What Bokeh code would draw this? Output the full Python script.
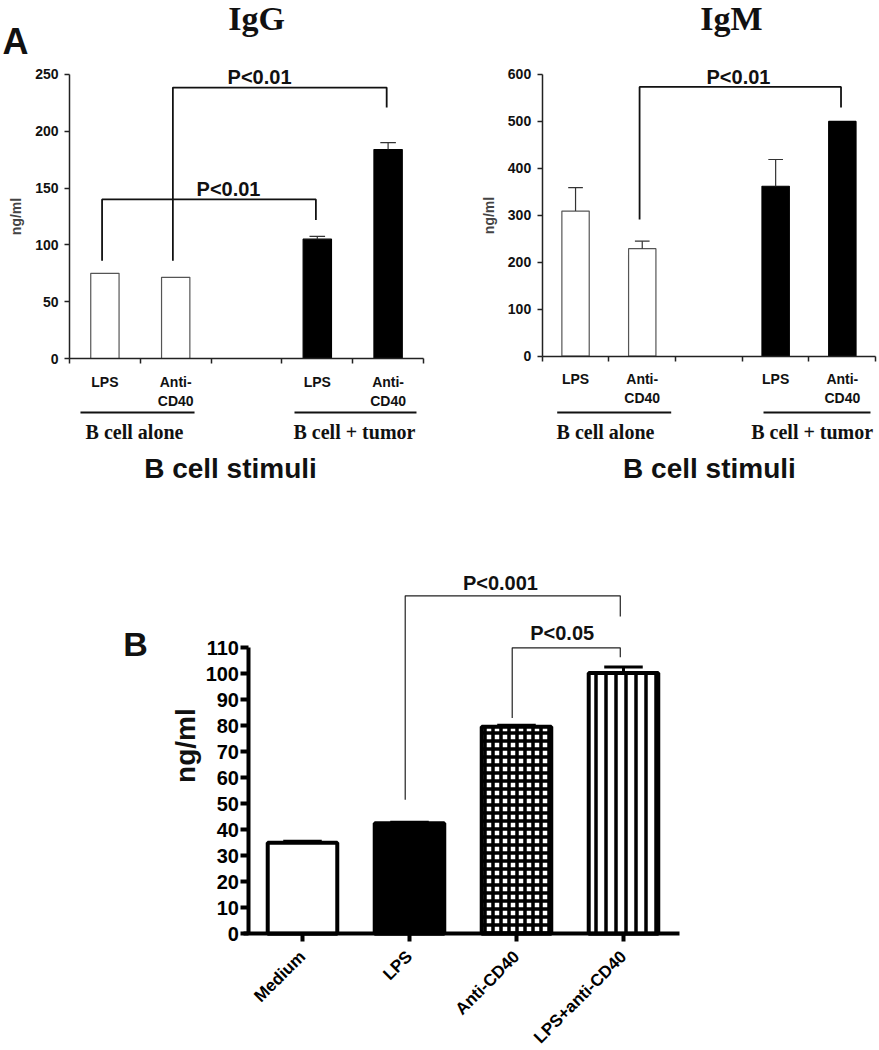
import math
from bokeh.plotting import figure
from bokeh.models import FixedTicker, ColumnDataSource
from bokeh.layouts import column, row
from bokeh.embed import file_html
from bokeh.resources import INLINE
from bokeh.core.properties import value

SANS = "Liberation Sans"
SERIF = "Liberation Serif"

# ---------------- data : panel A ----------------
a_slot_labels = ["LPS", "Anti-\nCD40", "", "LPS", "Anti-\nCD40"]
a_bar_slots = [1, 2, 4, 5]
a_bar_colors = ["white", "white", "black", "black"]
a_groups = ["B cell alone", "B cell + tumor"]
a_xlabel = "B cell stimuli"
a_ylabel = "ng/ml"

igg_values = [75, 71.5, 105, 184]
igg_errors = [0, 0, 2.5, 6]
igg_ticks = [0, 50, 100, 150, 200, 250]
igg_p_labels = ["P<0.01", "P<0.01"]
igg_p_left = [2, 1]
igg_p_right = [5, 4]
igg_p_top = [238.5, 140]
igg_p_left_end = [86, 86]
igg_p_right_end = [221, 122]

igm_values = [309, 229, 362, 500]
igm_errors = [50, 16, 57, 0]
igm_ticks = [0, 100, 200, 300, 400, 500, 600]
igm_p_labels = ["P<0.01"]
igm_p_left = [2]
igm_p_right = [5]
igm_p_top = [573.6]
igm_p_left_end = [291]
igm_p_right_end = [529.6]

# ---------------- data : panel B ----------------
b_categories = ["Medium", "LPS", "Anti-CD40", "LPS+anti-CD40"]
b_values = [35, 42.5, 79.6, 100.3]
b_errors = [0.6, 0.4, 0.6, 2.3]
b_ticks = [0, 10, 20, 30, 40, 50, 60, 70, 80, 90, 100, 110]
b_p_labels = ["P<0.001", "P<0.05"]
b_p_left = [2, 3]
b_p_right = [4, 4]
b_p_top = [130, 110]
b_p_left_end = [51.6, 83]
b_p_right_end = [122, 106.4]


def add_brackets(p, left, right, top, lend, rend, dx_left, dx_right, lw, color):
    xs = [[l + dx_left, l + dx_left, r + dx_right, r + dx_right] for l, r in zip(left, right)]
    ys = [[a, t, t, b] for a, t, b in zip(lend, top, rend)]
    p.multi_line(xs=xs, ys=ys, line_color=color, line_width=lw)


def add_errorbars(p, xs, tops, errs, half, lw, color):
    ex = [x for x, e in zip(xs, errs) if e > 0]
    e0 = [t for t, e in zip(tops, errs) if e > 0]
    e1 = [t + e for t, e in zip(tops, errs) if e > 0]
    if not ex:
        return
    p.segment(x0=ex, y0=e0, x1=ex, y1=e1, line_color=color, line_width=lw)
    p.segment(x0=[x - half for x in ex], y0=e1, x1=[x + half for x in ex], y1=e1,
              line_color=color, line_width=lw)


def base_fig(width, height, xr, yr):
    p = figure(width=width, height=height, x_range=xr, y_range=yr,
               toolbar_location=None, output_backend="svg", min_border=0,
               outline_line_color=None, background_fill_color="white",
               border_fill_color="white")
    p.xgrid.visible = False
    p.ygrid.visible = False
    return p


def panel_a(width, xr, yr, title, title_pos, values, errors, ticks,
            p_labels, p_left, p_right, p_top, p_lend, p_rend, p_text_pos,
            bar_width, group_line_x, group_line_y, group_label_x, group_label_y,
            xlabel_pos, letter=None, letter_pos=None):
    p = base_fig(width, 512, xr, yr)
    line_colors = ["#555555" if c == "white" else "black" for c in a_bar_colors]
    p.vbar(x=a_bar_slots, top=values, width=bar_width, fill_color=a_bar_colors,
           line_color=line_colors, line_width=1.2)
    add_errorbars(p, a_bar_slots, values, errors, 0.11, 1.2, "#333333")
    add_brackets(p, p_left, p_right, p_top, p_lend, p_rend, -0.04, -0.02, 1.8, "#111111")
    p.text(x=[pt[0] for pt in p_text_pos], y=[pt[1] for pt in p_text_pos], text=p_labels,
           text_font=value(SANS), text_font_style="bold", text_font_size="20px",
           text_align="center", text_baseline="middle", text_color="#111111")

    # axes
    p.yaxis.fixed_location = 0.5
    p.yaxis.bounds = (0, ticks[-1])
    p.yaxis.ticker = FixedTicker(ticks=ticks)
    p.yaxis.major_tick_out = 5
    p.yaxis.major_tick_in = 0
    p.yaxis.minor_tick_out = 0
    p.yaxis.minor_tick_in = 0
    p.yaxis.axis_line_width = 1.5
    p.yaxis.axis_line_color = "#222222"
    p.yaxis.major_tick_line_width = 1.5
    p.yaxis.major_tick_line_color = "#222222"
    p.yaxis.major_label_text_font = SANS
    p.yaxis.major_label_text_font_style = "bold"
    p.yaxis.major_label_text_font_size = "14px"
    p.yaxis.major_label_text_color = "#111111"
    p.yaxis.major_label_standoff = 6
    p.yaxis.axis_label = a_ylabel
    p.yaxis.axis_label_text_font = SANS
    p.yaxis.axis_label_text_font_style = "bold"
    p.yaxis.axis_label_text_font_size = "14px"
    p.yaxis.axis_label_standoff = 8

    slots = list(range(1, len(a_slot_labels) + 1))
    p.xaxis.fixed_location = 0
    p.xaxis.bounds = (0.5, len(slots) + 0.5)
    p.xaxis.ticker = FixedTicker(ticks=slots, minor_ticks=[s - 0.5 for s in slots] + [len(slots) + 0.5])
    p.xaxis.major_label_overrides = {float(s): lab for s, lab in zip(slots, a_slot_labels)}
    p.xaxis.major_tick_out = 0
    p.xaxis.major_tick_in = 0
    p.xaxis.minor_tick_out = 5
    p.xaxis.minor_tick_in = 0
    p.xaxis.minor_tick_line_width = 1.5
    p.xaxis.minor_tick_line_color = "#222222"
    p.xaxis.axis_line_width = 1.5
    p.xaxis.axis_line_color = "#222222"
    p.xaxis.major_label_text_font = SANS
    p.xaxis.major_label_text_font_style = "bold"
    p.xaxis.major_label_text_font_size = "14px"
    p.xaxis.major_label_text_color = "#111111"
    p.xaxis.major_label_standoff = 10

    # group underlines and labels
    p.segment(x0=[g[0] for g in group_line_x], x1=[g[1] for g in group_line_x],
              y0=[group_line_y] * 2, y1=[group_line_y] * 2, line_color="#111111", line_width=2)
    p.text(x=group_label_x, y=[group_label_y] * 2, text=a_groups,
           text_font=value(SERIF), text_font_style="bold", text_font_size="20px",
           text_align="center", text_baseline="middle", text_color="#111111")
    p.text(x=[xlabel_pos[0]], y=[xlabel_pos[1]], text=[a_xlabel],
           text_font=value(SANS), text_font_style="bold", text_font_size="28px",
           text_align="center", text_baseline="middle", text_color="#111111")
    # title
    p.text(x=[title_pos[0]], y=[title_pos[1]], text=[title],
           text_font=value(SERIF), text_font_style="bold", text_font_size="34px",
           text_align="center", text_baseline="alphabetic", text_color="#111111")
    if letter:
        p.text(x=[letter_pos[0]], y=[letter_pos[1]], text=[letter],
               text_font=value(SANS), text_font_style="bold", text_font_size="36px",
               text_align="left", text_baseline="alphabetic", text_color="#111111")
    return p


p1 = panel_a(440, (-0.4746, 5.7401), (-135.56, 315.14), "IgG", (3.141, 299.0),
             igg_values, igg_errors, igg_ticks,
             igg_p_labels, igg_p_left, igg_p_right, igg_p_top, igg_p_left_end, igg_p_right_end,
             [(3.184, 247.4), (2.746, 148.8)],
             0.4, [(0.655, 2.266), (3.678, 5.401)], -47.5, [1.418, 4.525], -65.1,
             (2.774, -96.8), letter="A", letter_pos=(-0.4464, 279.1))

p2 = panel_a(439, (-1.0247, 5.557), (-332.9, 757.6), "IgM", (3.338, 718.5),
             igm_values, igm_errors, igm_ticks,
             igm_p_labels, igm_p_left, igm_p_right, igm_p_top, igm_p_left_end, igm_p_right_end,
             [(3.443, 593.6)],
             0.41, [(0.725, 2.434), (3.818, 5.422)], -119.9, [1.449, 4.548], -162.5,
             (3.008, -239.2))

# ---------------- panel B ----------------
p3 = base_fig(879, 538, (-1.8224, 6.3926), (-44.88, 162.04))
b_x = list(range(1, len(b_categories) + 1))
src = ColumnDataSource(dict(
    x=b_x, top=b_values,
    fill=["white", "black", "white", "white"],
    hatch=["blank", "blank", "cross", "vertical_line"],
    scale=[8, 8, 8, 10],
    weight=[1, 1, 3.5, 3.5],
))
p3.vbar(x="x", top="top", width=0.65, source=src, fill_color="fill",
        hatch_pattern="hatch", hatch_scale="scale", hatch_weight="weight",
        hatch_color="black", line_color="black", line_width=4)
add_errorbars(p3, b_x, b_values, b_errors, 0.18, 3, "black")
add_brackets(p3, b_p_left, b_p_right, b_p_top, b_p_left_end, b_p_right_end, -0.04, -0.03, 1.2, "#222222")
p3.text(x=[2.850, 3.427], y=[134.8, 115.6], text=b_p_labels,
        text_font=value(SANS), text_font_style="bold", text_font_size="20px",
        text_align="center", text_baseline="middle", text_color="#111111")
p3.text(x=[-0.561], y=[111.3], text=["B"],
        text_font=value(SANS), text_font_style="bold", text_font_size="34px",
        text_align="center", text_baseline="middle", text_color="#111111")
p3.text(x=[-0.093], y=[72.4], text=["ng/ml"], angle=math.pi / 2,
        text_font=value(SANS), text_font_style="bold", text_font_size="28px",
        text_align="center", text_baseline="middle", text_color="#111111")

p3.yaxis.fixed_location = 0.5
p3.yaxis.bounds = (0, b_ticks[-1])
p3.yaxis.ticker = FixedTicker(ticks=b_ticks)
p3.yaxis.axis_line_width = 4
p3.yaxis.axis_line_color = "black"
p3.yaxis.major_tick_out = 8
p3.yaxis.major_tick_in = 0
p3.yaxis.minor_tick_out = 0
p3.yaxis.minor_tick_in = 0
p3.yaxis.major_tick_line_width = 4
p3.yaxis.major_label_text_font = SANS
p3.yaxis.major_label_text_font_style = "bold"
p3.yaxis.major_label_text_font_size = "20px"
p3.yaxis.major_label_text_color = "black"
p3.yaxis.major_label_standoff = 2

p3.xaxis.fixed_location = 0
p3.xaxis.bounds = (0.45, len(b_x) + 0.52)
p3.xaxis.ticker = FixedTicker(ticks=b_x)
p3.xaxis.major_label_overrides = {float(x): c for x, c in zip(b_x, b_categories)}
p3.xaxis.axis_line_width = 4
p3.xaxis.axis_line_color = "black"
p3.xaxis.major_tick_out = 8
p3.xaxis.major_tick_in = 0
p3.xaxis.minor_tick_out = 0
p3.xaxis.minor_tick_in = 0
p3.xaxis.major_tick_line_width = 4
p3.xaxis.major_label_orientation = math.pi / 4
p3.xaxis.major_label_text_font = SANS
p3.xaxis.major_label_text_font_style = "bold"
p3.xaxis.major_label_text_font_size = "17px"
p3.xaxis.major_label_text_color = "black"
p3.xaxis.major_label_standoff = 12

layout = column(row(p1, p2), p3)
open("out.html", "w").write(file_html(layout, INLINE))
